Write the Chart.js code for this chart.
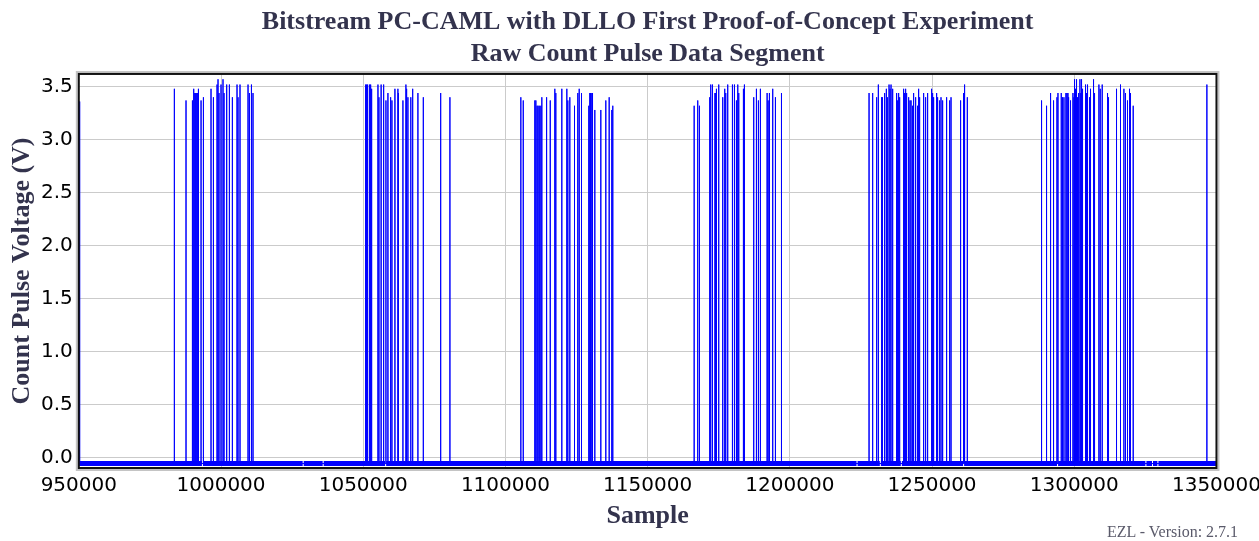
<!DOCTYPE html>
<html>
<head>
<meta charset="utf-8">
<title>Raw Count Pulse Data Segment</title>
<script src="https://cdn.jsdelivr.net/npm/chart.js@4.4.1/dist/chart.umd.min.js"></script>
<style>
    body { margin: 0; overflow: hidden; background: #fff; }
    #wrap { position: absolute; left: 0; top: 0; width: 1267px; height: 541px; }
    #version {
        position: absolute; left: 1107px; top: 523px;
        font: 16px "Liberation Serif", serif; color: #5a5a6a; white-space: nowrap;
    }
</style>
</head>
<body>
<div id="wrap"><canvas id="pulseChart"></canvas></div>
<div id="version">EZL - Version: 2.7.1</div>
<script>
// axis range
const xMin = 950000;
const xMax = 1350000;
const yMin = -0.1;
const yMax = 3.62;

// noisy floor of the signal (drawn as a band), and the spots where it drops out
const baseVolts = -0.058;
const baseGaps = [993470, 1028890, 1035920, 1057880, 1223630, 1231820, 1239200,
    1261090, 1294130, 1325190, 1327510, 1329410];

// pulses, read burst by burst (sample index, peak volts)
const burst1Samples = [950300, 983600, 987700, 989950, 990400, 990760, 991100, 991460, 991800, 992060,
    992980, 993680, 993900, 996490, 997330, 998600, 998950, 999300, 1000000, 1000700, 1001060,
    1002000, 1002950, 1004000, 1005630, 1005980, 1006680, 1009500, 1009980, 1010550, 1010800, 1011250];
const burst1Volts = [3.36, 3.48, 3.37, 3.37, 3.48, 3.44, 3.44, 3.44, 3.44, 3.48,
    3.37, 3.32, 3.40, 3.48, 3.40, 3.52, 3.57, 3.44, 3.52, 3.57, 3.44,
    3.52, 3.52, 3.40, 3.52, 3.40, 3.52, 3.52, 3.44, 3.52, 3.40, 3.44];

const burst2Samples = [1050850, 1051200, 1051550, 1052260, 1052610, 1052960, 1055180, 1055530, 1056300,
    1057180, 1057990, 1058690, 1059640, 1060100, 1061150, 1062200, 1062350, 1063960, 1065010, 1065260,
    1065720, 1066660, 1066780, 1067260, 1067480, 1069230, 1071130, 1077100, 1077320, 1080480];
const burst2Volts = [3.52, 3.52, 3.52, 3.52, 3.52, 3.48, 3.52, 3.40, 3.52,
    3.52, 3.37, 3.44, 3.40, 3.37, 3.48, 3.48, 3.44, 3.37, 3.52, 3.48,
    3.40, 3.40, 3.32, 3.48, 3.44, 3.44, 3.40, 3.40, 3.44, 3.40];

const burst3Samples = [1105420, 1106270, 1110340, 1110700, 1111120, 1111470, 1111900, 1112450, 1112800,
    1114350, 1114560, 1115760, 1117370, 1117720, 1119830, 1121590, 1121940, 1122640, 1124290, 1125450,
    1125940, 1126750, 1129320, 1129670, 1129920, 1130160, 1130620, 1131430, 1133540, 1135290, 1136480,
    1137400, 1137750];
const burst3Volts = [3.40, 3.37, 3.37, 3.37, 3.32, 3.32, 3.32, 3.32, 3.40,
    3.28, 3.40, 3.37, 3.48, 3.44, 3.48, 3.48, 3.37, 3.40, 3.32, 3.44,
    3.48, 3.44, 3.32, 3.44, 3.44, 3.44, 3.44, 3.28, 3.28, 3.37, 3.40,
    3.28, 3.32];

const burst4Samples = [1166360, 1167620, 1168220, 1171840, 1172190, 1172790, 1173670, 1173840, 1174190,
    1175000, 1176410, 1177110, 1177460, 1178160, 1179820, 1180520, 1181220, 1181690, 1182040, 1183680,
    1184030, 1187300, 1188250, 1188950, 1189650, 1192010, 1192360, 1192820, 1193980, 1194930, 1196930,
    1197140];
const burst4Volts = [3.32, 3.37, 3.32, 3.40, 3.52, 3.52, 3.44, 3.44, 3.48,
    3.52, 3.40, 3.48, 3.44, 3.52, 3.52, 3.52, 3.37, 3.52, 3.44, 3.48,
    3.52, 3.40, 3.48, 3.37, 3.48, 3.44, 3.37, 3.44, 3.48, 3.40, 3.44,
    3.37];

const burst5Samples = [1227850, 1229120, 1230520, 1231120, 1232280, 1232530, 1233330, 1233930, 1234280,
    1234880, 1235230, 1235580, 1236150, 1237550, 1237900, 1238250, 1238610, 1240010, 1240360, 1240710,
    1241060, 1241770, 1242240, 1242610, 1243170, 1243520, 1244230, 1244930, 1245280, 1245630, 1247040,
    1247740, 1248440, 1249850, 1250200, 1250550, 1251610, 1251960, 1252660, 1253150, 1253720, 1255120,
    1256180, 1256670, 1260040, 1261090, 1261440, 1262400];
const burst5Volts = [3.44, 3.44, 3.40, 3.52, 3.40, 3.40, 3.44, 3.48, 3.40,
    3.52, 3.48, 3.52, 3.48, 3.44, 3.37, 3.44, 3.40, 3.48, 3.44, 3.48,
    3.44, 3.40, 3.37, 3.37, 3.32, 3.44, 3.40, 3.32, 3.48, 3.40, 3.44,
    3.40, 3.44, 3.48, 3.44, 3.40, 3.44, 3.40, 3.37, 3.40, 3.37, 3.40,
    3.37, 3.40, 3.37, 3.44, 3.52, 3.40];

const burst6Samples = [1288500, 1290260, 1291670, 1292720, 1293920, 1294270, 1295430, 1295890, 1296380,
    1297080, 1297430, 1297780, 1298010, 1298690, 1299540, 1299890, 1300100, 1300450, 1300800, 1301150,
    1301400, 1301640, 1302000, 1302280, 1302560, 1302910, 1303970, 1304320, 1304670, 1305370, 1305720,
    1306780, 1307130, 1308670, 1309130, 1309830, 1311700, 1312050, 1314860, 1316260, 1317460, 1318020,
    1318720, 1319430, 1319780, 1320730, 1346630];
const burst6Volts = [3.37, 3.32, 3.44, 3.37, 3.40, 3.44, 3.44, 3.40, 3.40,
    3.44, 3.44, 3.44, 3.40, 3.37, 3.44, 3.40, 3.57, 3.48, 3.57, 3.40,
    3.40, 3.44, 3.57, 3.44, 3.57, 3.48, 3.52, 3.44, 3.52, 3.40, 3.48,
    3.57, 3.44, 3.52, 3.48, 3.52, 3.44, 3.40, 3.48, 3.52, 3.48, 3.44,
    3.37, 3.48, 3.44, 3.32, 3.52];

const pulseSamples = [].concat(burst1Samples, burst2Samples, burst3Samples, burst4Samples, burst5Samples, burst6Samples);
const pulseVolts = [].concat(burst1Volts, burst2Volts, burst3Volts, burst4Volts, burst5Volts, burst6Volts);

// each pulse: rise from the floor to the peak and back down at the same sample
const pulsePoints = [];
pulseSamples.forEach((s, i) => {
    pulsePoints.push({ x: s, y: baseVolts });
    pulsePoints.push({ x: s, y: pulseVolts[i] });
    pulsePoints.push({ x: s, y: baseVolts });
});

// floor band, broken at the gaps
const basePoints = [{ x: xMin, y: baseVolts }];
baseGaps.forEach(g => {
    basePoints.push({ x: g - 180, y: baseVolts });
    basePoints.push({ x: g, y: null });
    basePoints.push({ x: g + 180, y: baseVolts });
});
basePoints.push({ x: xMax, y: baseVolts });

const titleColor = '#33334d';
const serifFamily = '"Liberation Serif", "Times New Roman", serif';
const axisTitleFont = { family: serifFamily, size: 26, weight: 'bold', lineHeight: 1.0 };

// black plot frame with a grey shadow ring outside it
const plotFrame = {
    id: 'plotFrame',
    afterDraw(chart) {
        const { ctx, chartArea: a } = chart;
        ctx.save();
        ctx.lineWidth = 2;
        ctx.strokeStyle = '#c4c4c4';
        ctx.strokeRect(a.left - 2, a.top - 2, a.right - a.left + 4, a.bottom - a.top + 4);
        ctx.strokeStyle = '#111';
        ctx.strokeRect(a.left, a.top, a.right - a.left, a.bottom - a.top);
        ctx.restore();
    }
};

new Chart(document.getElementById('pulseChart'), {
    type: 'line',
    data: {
        datasets: [
            {
                label: 'floor',
                data: basePoints,
                borderColor: '#0000ff',
                borderWidth: 5,
                borderCapStyle: 'butt',
                pointRadius: 0,
                spanGaps: false
            },
            {
                label: 'pulses',
                data: pulsePoints,
                borderColor: '#0000ff',
                borderWidth: 1,
                pointRadius: 0
            }
        ]
    },
    options: {
        responsive: true,
        maintainAspectRatio: false,
        animation: false,
        layout: { padding: { top: 0, bottom: 10, left: 0, right: 0 } },
        plugins: {
            legend: { display: false },
            tooltip: { enabled: false },
            title: {
                display: true,
                fullSize: false,
                text: ['Bitstream PC-CAML with DLLO First Proof-of-Concept Experiment', 'Raw Count Pulse Data Segment'],
                color: titleColor,
                font: { family: serifFamily, size: 26, weight: 'bold', lineHeight: 1.23 },
                padding: { top: 6, bottom: 4 }
            }
        },
        scales: {
            x: {
                type: 'linear',
                min: xMin,
                max: xMax,
                grid: { color: '#cbcbcb', drawTicks: false },
                border: { display: false },
                ticks: {
                    stepSize: 50000,
                    color: '#000',
                    padding: 6,
                    maxRotation: 0,
                    font: { family: '"DejaVu Sans", sans-serif', size: 20 },
                    callback: v => String(v)
                },
                title: {
                    display: true,
                    text: 'Sample',
                    color: titleColor,
                    font: axisTitleFont,
                    padding: { top: -1, bottom: 2 }
                }
            },
            y: {
                min: yMin,
                max: yMax,
                grid: { color: '#cbcbcb', drawTicks: false },
                border: { display: false },
                ticks: {
                    stepSize: 0.5,
                    includeBounds: false,
                    color: '#000',
                    padding: 6,
                    font: { family: '"DejaVu Sans", sans-serif', size: 20 },
                    callback: v => v.toFixed(1)
                },
                title: {
                    display: true,
                    text: 'Count Pulse Voltage (V)',
                    color: titleColor,
                    font: axisTitleFont,
                    padding: { top: 9, bottom: 0 }
                }
            }
        }
    },
    plugins: [plotFrame]
});
</script>
</body>
</html>
